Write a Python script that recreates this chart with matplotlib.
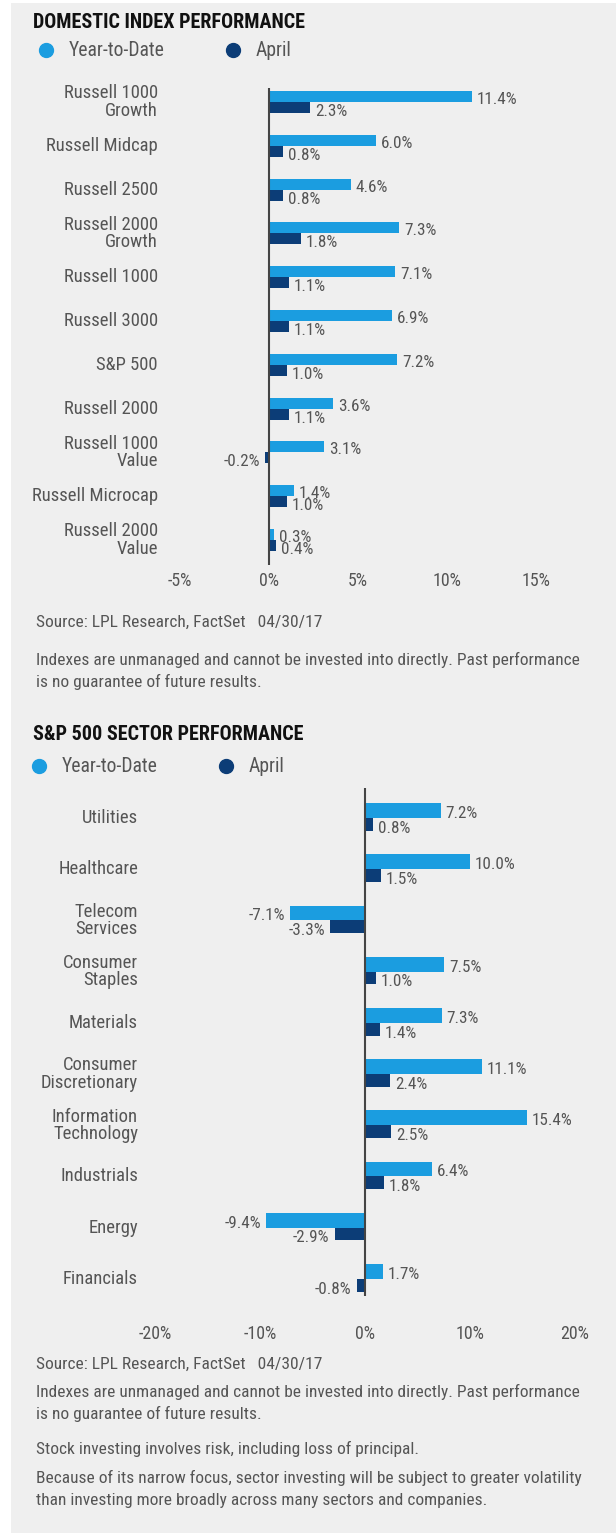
import matplotlib
matplotlib.use("Agg")
import matplotlib.pyplot as plt
from matplotlib import font_manager as fm
from matplotlib.lines import Line2D
from matplotlib.patches import Rectangle

# ---------------- data ----------------
idx_names = ["Russell 1000\nGrowth", "Russell Midcap", "Russell 2500", "Russell 2000\nGrowth",
             "Russell 1000", "Russell 3000", "S&P 500", "Russell 2000", "Russell 1000\nValue",
             "Russell Microcap", "Russell 2000\nValue"]
idx_ytd = [11.4, 6.0, 4.6, 7.3, 7.1, 6.9, 7.2, 3.6, 3.1, 1.4, 0.3]
idx_apr = [2.3, 0.8, 0.8, 1.8, 1.1, 1.1, 1.0, 1.1, -0.2, 1.0, 0.4]
idx_ticks = [-5, 0, 5, 10, 15]

sec_names = ["Utilities", "Healthcare", "Telecom\nServices", "Consumer\nStaples", "Materials",
             "Consumer\nDiscretionary", "Information\nTechnology", "Industrials", "Energy", "Financials"]
sec_ytd = [7.2, 10.0, -7.1, 7.5, 7.3, 11.1, 15.4, 6.4, -9.4, 1.7]
sec_apr = [0.8, 1.5, -3.3, 1.0, 1.4, 2.4, 2.5, 1.8, -2.9, -0.8]
sec_ticks = [-20, -10, 0, 10, 20]

series_names = ["Year-to-Date", "April"]
# --------------------------------------

W, H = 616, 1533
C_YTD = "#1b9de0"
C_APR = "#0c3d77"
C_TXT = "#555555"
BG = "#efefef"

# choose the narrowest available family
names = {f.name for f in fm.fontManager.ttflist}
cands = ["Liberation Sans Narrow", "Roboto Condensed", "DejaVu Sans Condensed",
         "Open Sans Condensed", "Noto Sans Condensed", "Arial Narrow", "Roboto", "Lato",
         "Liberation Sans", "DejaVu Sans"]
FAM = next(c for c in cands if c in names)
STRETCH = "normal"
if FAM == "DejaVu Sans":
    if any(f.name == "DejaVu Sans" and f.stretch == "condensed" for f in fm.fontManager.ttflist):
        STRETCH = "condensed"
plt.rcParams["font.family"] = [FAM, "DejaVu Sans"]
plt.rcParams["font.stretch"] = STRETCH

fig = plt.figure(figsize=(W / 100, H / 100), dpi=100)
fig.patch.set_facecolor("white")
fig.add_artist(Rectangle((11 / W, 0), 1 - 11 / W, 1 - 3 / H, transform=fig.transFigure,
                         facecolor=BG, edgecolor="none", zorder=-10))

# calibrate font size so that the long disclaimer line matches the reference width
renderer = fig.canvas.get_renderer()
probe = fig.text(0, 0, "Indexes are unmanaged and cannot be invested into directly. Past performance",
                 fontsize=10)
pw = probe.get_window_extent(renderer).width
probe.remove()
S10 = min(14.0, 540.0 / pw * 10.0)   # font size that gives the reference width
R = S10 / 10.5


def fx(x):
    return x / W


def fy(y):
    return 1 - y / H


def ftext(x, y, s, size=10.5, **kw):
    kw.setdefault("color", C_TXT)
    kw.setdefault("va", "center")
    kw.setdefault("ha", "left")
    fig.text(fx(x), fy(y), s, fontsize=size * R, **kw)


def legend(y, x1, x2):
    for xc, col, name in [(x1, C_YTD, series_names[0]), (x2, C_APR, series_names[1])]:
        fig.add_artist(Line2D([fx(xc)], [fy(y)], marker="o", markersize=10, color=col,
                              linestyle="none", transform=fig.transFigure))
        ftext(xc + 23, y, name, size=11.8)


def panel(px_left, px_right, px_top, px_bot, zero_px, scale, row0, spacing, n,
          names, ytd, apr, ticks, hy, ha_, label_x, tick_y):
    left_val = (px_left - zero_px) / scale
    right_val = (px_right - zero_px) / scale
    top_val = (px_top - row0) / spacing
    bot_val = (px_bot - row0) / spacing
    ax = fig.add_axes([fx(px_left), fy(px_bot), (px_right - px_left) / W, (px_bot - px_top) / H])
    ax.set_xlim(left_val, right_val)
    ax.set_ylim(bot_val, top_val)
    ax.patch.set_alpha(0)
    for s in ax.spines.values():
        s.set_visible(False)
    pos = list(range(n))
    ax.barh([p - hy / 2 for p in pos], ytd, height=hy, color=C_YTD, zorder=2)
    ax.barh([p + ha_ / 2 for p in pos], apr, height=ha_, color=C_APR, zorder=2)
    ax.axvline(0, color="#444444", lw=1.5, zorder=3)
    fsv = 10.3 * R
    for p, v in zip(pos, ytd):
        off = 5 if v >= 0 else -5
        ax.annotate(f"{v:.1f}%", (v, p - hy / 2), xytext=(off, -3), textcoords="offset pixels",
                    ha="left" if v >= 0 else "right", va="center", fontsize=fsv, color=C_TXT)
    for p, v in zip(pos, apr):
        off = 5 if v >= 0 else -5
        ax.annotate(f"{v:.1f}%", (v, p + ha_ / 2), xytext=(off, -4), textcoords="offset pixels",
                    ha="left" if v >= 0 else "right", va="center", fontsize=fsv, color=C_TXT)
    ax.set_yticks([])
    ax.set_xticks(ticks)
    ax.set_xticklabels([f"{t}%" for t in ticks], fontsize=10.8 * R, color=C_TXT)
    ax.tick_params(axis="x", length=0, pad=tick_y - px_bot - 8)
    for p, name in zip(pos, names):
        ftext(label_x, row0 + spacing * p, name, size=11.2, ha="right", multialignment="right",
              linespacing=0.95)
    return ax


# ---------- panel 1 ----------
ftext(33, 23, "DOMESTIC INDEX PERFORMANCE", size=12.1, fontweight="bold", color="#111111")
legend(50, 46, 233)
panel(150, 600, 88, 565, 269, 17.8, 102, 43.8, len(idx_names), idx_names, idx_ytd, idx_apr,
      idx_ticks, 0.25, 0.25, 158, 578)
ftext(36, 622, "Source: LPL Research, FactSet   04/30/17")
ftext(36, 660, "Indexes are unmanaged and cannot be invested into directly. Past performance")
ftext(36, 682, "is no guarantee of future results.")

# ---------- panel 2 ----------
ftext(33, 734, "S&P 500 SECTOR PERFORMANCE", size=12.1, fontweight="bold", color="#111111")
legend(766, 39, 226)
panel(120, 600, 788, 1296, 365, 10.5, 818, 51.2, len(sec_names), sec_names, sec_ytd, sec_apr,
      sec_ticks, 0.29, 0.25, 138, 1325)
ftext(36, 1364, "Source: LPL Research, FactSet   04/30/17")
ftext(36, 1392, "Indexes are unmanaged and cannot be invested into directly. Past performance")
ftext(36, 1414, "is no guarantee of future results.")
ftext(36, 1449, "Stock investing involves risk, including loss of principal.")
ftext(36, 1478, "Because of its narrow focus, sector investing will be subject to greater volatility")
ftext(36, 1500, "than investing more broadly across many sectors and companies.")

fig.savefig("out.png", dpi=100, facecolor=fig.get_facecolor())
